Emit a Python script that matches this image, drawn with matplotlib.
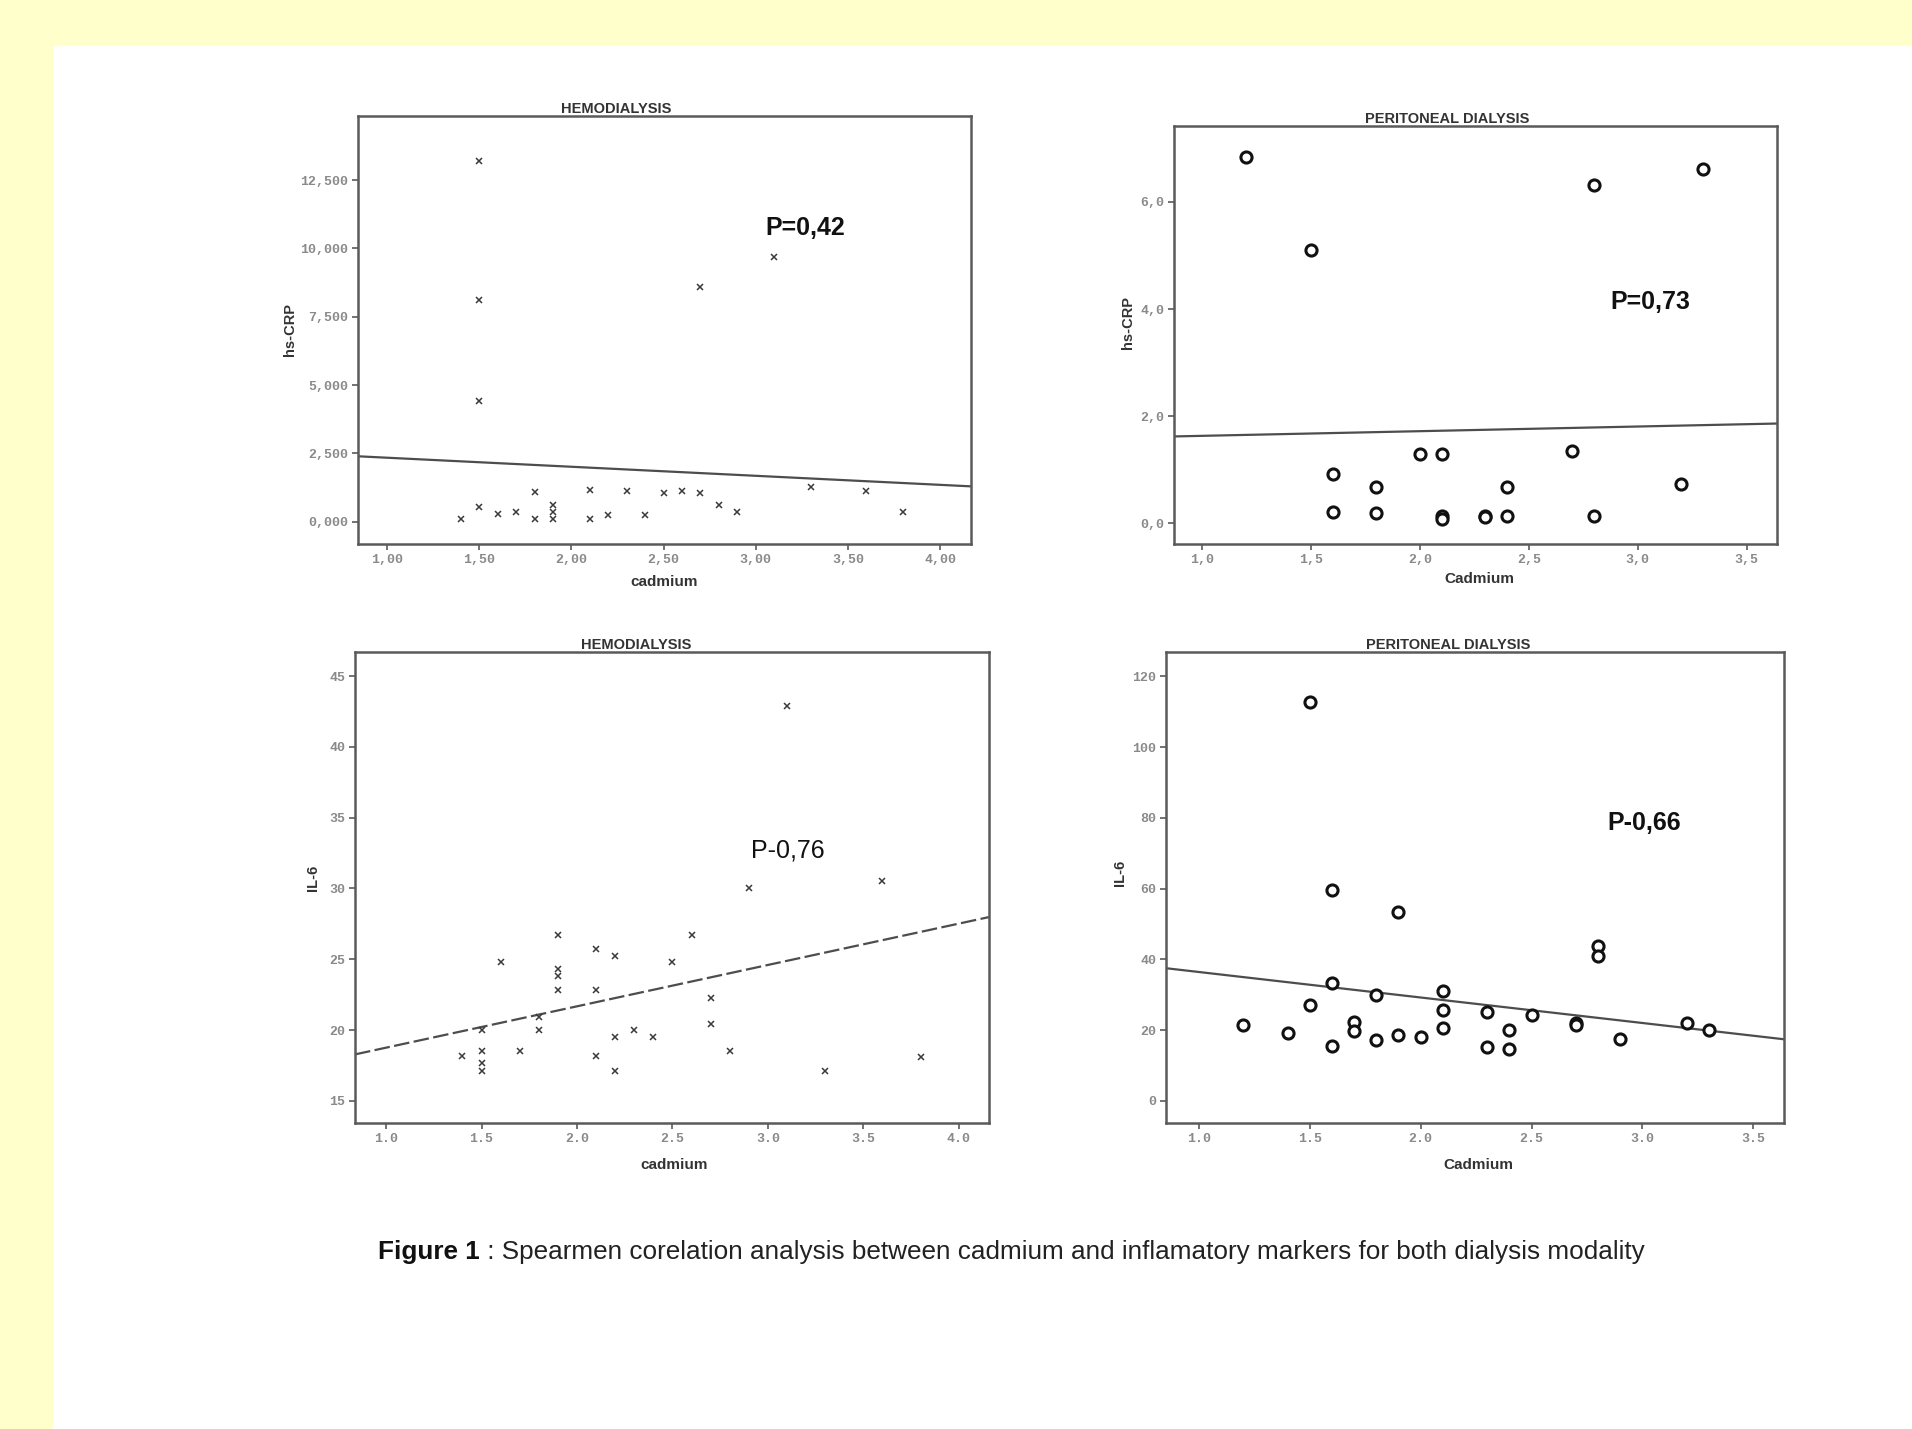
import numpy as np
import matplotlib
matplotlib.use("Agg")
import matplotlib.pyplot as plt
from matplotlib.patches import Rectangle

# ---------------- data ----------------
# Hemodialysis : cadmium vs hs-CRP
hd_crp_cd = [1.50, 1.50, 1.50, 2.70, 3.10, 1.80, 2.10, 2.30, 2.50, 2.60, 2.70, 3.30, 3.60,
             1.50, 1.40, 1.60, 1.70, 1.80, 1.90, 1.90, 1.90, 2.10, 2.20, 2.40, 2.80, 2.90, 3.80]
hd_crp_val = [13.2, 8.1, 4.4, 8.6, 9.7, 1.07, 1.17, 1.13, 1.05, 1.13, 1.05, 1.26, 1.11,
              0.55, 0.10, 0.28, 0.34, 0.10, 0.10, 0.35, 0.62, 0.10, 0.26, 0.26, 0.59, 0.34, 0.34]
hd_crp_fit = (2.67, -0.331)   # intercept, slope

# Peritoneal dialysis : cadmium vs hs-CRP
pd_crp_cd = [1.20, 1.50, 2.80, 3.30, 2.00, 2.10, 2.70, 1.60, 1.80, 2.40, 3.20,
             1.60, 1.80, 2.10, 2.10, 2.30, 2.30, 2.40, 2.80]
pd_crp_val = [6.85, 5.10, 6.31, 6.62, 1.29, 1.29, 1.34, 0.91, 0.68, 0.68, 0.73,
              0.21, 0.19, 0.14, 0.08, 0.14, 0.12, 0.14, 0.13]
pd_crp_fit = (1.544, 0.087)

# Hemodialysis : cadmium vs IL-6
hd_il6_cd = [3.10, 2.90, 3.60, 1.90, 2.60, 2.10, 2.20, 1.60, 2.50, 1.90, 1.90, 1.90, 2.10,
             2.70, 1.80, 2.70, 1.50, 1.80, 2.30, 2.20, 2.40, 1.40, 1.50, 1.70, 2.80, 1.50,
             1.50, 2.10, 3.80, 2.20, 3.30]
hd_il6_val = [42.9, 30.0, 30.5, 26.7, 26.7, 25.7, 25.2, 24.8, 24.8, 24.3, 23.8, 22.8, 22.8,
              22.3, 20.9, 20.4, 20.0, 20.0, 20.0, 19.5, 19.5, 18.2, 18.5, 18.5, 18.5, 17.7,
              17.1, 18.2, 18.1, 17.1, 17.1]
hd_il6_fit = (15.84, 2.92)

# Peritoneal dialysis : cadmium vs IL-6
pd_il6_cd = [1.50, 1.60, 1.90, 2.80, 2.80, 1.60, 1.80, 2.10, 1.50, 2.10, 2.30, 2.50, 1.70,
             1.70, 2.70, 2.70, 3.20, 1.20, 2.10, 1.40, 1.90, 2.00, 2.40, 3.30, 1.80, 2.90,
             1.60, 2.30, 2.40]
pd_il6_val = [112.9, 59.5, 53.4, 43.7, 41.1, 33.3, 30.0, 31.0, 27.2, 25.7, 25.2, 24.4, 22.4,
              19.7, 22.0, 21.4, 22.0, 21.4, 20.7, 19.2, 18.7, 18.2, 20.0, 20.0, 17.3, 17.4,
              15.6, 15.1, 14.6]
pd_il6_fit = (43.65, -7.21)

# tick values / labels
hd_crp_xticks = [1.0, 1.5, 2.0, 2.5, 3.0, 3.5, 4.0]
hd_crp_xlabels = ["1,00", "1,50", "2,00", "2,50", "3,00", "3,50", "4,00"]
hd_crp_yticks = [0, 2.5, 5, 7.5, 10, 12.5]
hd_crp_ylabels = ["0,000", "2,500", "5,000", "7,500", "10,000", "12,500"]

pd_crp_xticks = [1.0, 1.5, 2.0, 2.5, 3.0, 3.5]
pd_crp_xlabels = ["1,0", "1,5", "2,0", "2,5", "3,0", "3,5"]
pd_crp_yticks = [0, 2, 4, 6]
pd_crp_ylabels = ["0,0", "2,0", "4,0", "6,0"]

hd_il6_xticks = [1.0, 1.5, 2.0, 2.5, 3.0, 3.5, 4.0]
hd_il6_xlabels = ["1.0", "1.5", "2.0", "2.5", "3.0", "3.5", "4.0"]
hd_il6_yticks = [15, 20, 25, 30, 35, 40, 45]
hd_il6_ylabels = ["15", "20", "25", "30", "35", "40", "45"]

pd_il6_xticks = [1.0, 1.5, 2.0, 2.5, 3.0, 3.5]
pd_il6_xlabels = ["1.0", "1.5", "2.0", "2.5", "3.0", "3.5"]
pd_il6_yticks = [0, 20, 40, 60, 80, 100, 120]
pd_il6_ylabels = ["0", "20", "40", "60", "80", "100", "120"]

titles = ["HEMODIALYSIS", "PERITONEAL DIALYSIS", "HEMODIALYSIS", "PERITONEAL DIALYSIS"]
ylabels = ["hs-CRP", "hs-CRP", "IL-6", "IL-6"]
xlabels = ["cadmium", "Cadmium", "cadmium", "Cadmium"]
rho_texts = ["P=0,42", "P=0,73", "P-0,76", "P-0,66"]
caption_bold = "Figure 1"
caption_rest = " : Spearmen corelation analysis between cadmium and inflamatory markers for both dialysis modality"

# ---------------- figure ----------------
W, H = 1912, 1429
fig = plt.figure(figsize=(W / 100, H / 100), dpi=100)
fig.patch.set_facecolor("white")

yellow = "#FFFFCC"
fig.add_artist(Rectangle((0, 0), 52 / W, 1, transform=fig.transFigure, color=yellow, zorder=0))
fig.add_artist(Rectangle((0, 1 - 45 / H), 1, 45 / H, transform=fig.transFigure, color=yellow, zorder=0))


def px_axes(l, t, r, b):
    return fig.add_axes([l / W, 1 - b / H, (r - l) / W, (b - t) / H])


panels = [
    dict(box=(358, 116, 971, 544), x=hd_crp_cd, y=hd_crp_val, fit=hd_crp_fit,
         xlim=(0.842, 4.168), ylim=(-0.82, 14.85),
         xt=hd_crp_xticks, xl=hd_crp_xlabels, yt=hd_crp_yticks, yl=hd_crp_ylabels,
         kind="x", ls="-", ylc=(-0.111, 0.50), xlc=(0.50, -0.089), tx=0.422,
         txt=(3.05, 10.75), tw="bold"),
    dict(box=(1174, 126, 1777, 544), x=pd_crp_cd, y=pd_crp_val, fit=pd_crp_fit,
         xlim=(0.87, 3.64), ylim=(-0.39, 7.42),
         xt=pd_crp_xticks, xl=pd_crp_xlabels, yt=pd_crp_yticks, yl=pd_crp_ylabels,
         kind="o", ls="-", ylc=(-0.076, 0.53), xlc=(0.506, -0.084), tx=0.453,
         txt=(2.876, 4.13), tw="bold"),
    dict(box=(355, 652, 989, 1123), x=hd_il6_cd, y=hd_il6_val, fit=hd_il6_fit,
         xlim=(0.837, 4.158), ylim=(13.44, 46.7),
         xt=hd_il6_xticks, xl=hd_il6_xlabels, yt=hd_il6_yticks, yl=hd_il6_ylabels,
         kind="x", ls=(0, (7, 2)), ylc=(-0.066, 0.52), xlc=(0.503, -0.089), tx=0.444,
         txt=(2.91, 32.65), tw="normal"),
    dict(box=(1166, 652, 1784, 1123), x=pd_il6_cd, y=pd_il6_val, fit=pd_il6_fit,
         xlim=(0.852, 3.638), ylim=(-6.25, 126.9),
         xt=pd_il6_xticks, xl=pd_il6_xlabels, yt=pd_il6_yticks, yl=pd_il6_ylabels,
         kind="o", ls="-", ylc=(-0.075, 0.53), xlc=(0.506, -0.089), tx=0.456,
         txt=(2.844, 78.65), tw="bold"),
]

spine_col = "#5a5a5a"
for i, p in enumerate(panels):
    ax = px_axes(*p["box"])
    ax.set_facecolor("white")
    ax.set_xlim(*p["xlim"])
    ax.set_ylim(*p["ylim"])
    if p["kind"] == "x":
        ax.plot(p["x"], p["y"], linestyle="none", marker="x", ms=4.5, mew=1.1,
                color="#3a3a3a", zorder=3)
    else:
        ax.plot(p["x"], p["y"], linestyle="none", marker="o", ms=8.0, mew=2.2,
                mfc="white", mec="#111111", zorder=3)
    b0, b1 = p["fit"]
    xl = np.array(ax.get_xlim())
    ax.plot(xl, b0 + b1 * xl, color="#4d4d4d", lw=1.6, linestyle=p["ls"], zorder=2)

    for s in ax.spines.values():
        s.set_color(spine_col)
        s.set_linewidth(1.8)
    ax.set_xticks(p["xt"])
    ax.set_xticklabels(p["xl"])
    ax.set_yticks(p["yt"])
    ax.set_yticklabels(p["yl"])
    ax.tick_params(direction="out", length=4, width=1.2, color=spine_col,
                   labelsize=9.5, labelcolor="#8a8a8a", pad=3)
    for lab in ax.get_xticklabels() + ax.get_yticklabels():
        lab.set_family(["Liberation Mono", "DejaVu Sans Mono"])
        lab.set_fontweight("bold")

    ax.set_title(titles[i], fontsize=10.5, fontweight="bold", color="#333333", pad=2,
                 x=p["tx"], family=["Liberation Sans", "DejaVu Sans"])
    ax.set_ylabel(ylabels[i], fontsize=10.5, fontweight="bold", color="#333333",
                  family=["Liberation Sans", "DejaVu Sans"])
    ax.set_xlabel(xlabels[i], fontsize=11, fontweight="bold", color="#333333",
                  family=["Liberation Sans", "DejaVu Sans"])
    ax.yaxis.set_label_coords(*p["ylc"])
    ax.yaxis.label.set_va("center")
    ax.xaxis.set_label_coords(*p["xlc"])
    ax.xaxis.label.set_va("center")

    ax.text(p["txt"][0], p["txt"][1], rho_texts[i], fontsize=18, fontweight=p["tw"],
            ha="left", va="center", color="#111111",
            family=["Liberation Sans Narrow", "Liberation Sans", "DejaVu Sans"])

# ---------------- caption ----------------
cap_left, cap_right, cap_y = 378, 1646, 1252
fs = 17
t1 = fig.text(cap_left / W, 1 - cap_y / H, caption_bold, fontsize=fs, fontweight="bold",
              ha="left", va="center", color="#111111",
              family=["Liberation Sans", "DejaVu Sans"])
fig.canvas.draw()
r = fig.canvas.get_renderer()
bb1 = t1.get_window_extent(r)
t2 = fig.text(bb1.x1 / W, 1 - cap_y / H, caption_rest, fontsize=fs,
              ha="left", va="center", color="#222222",
              family=["Liberation Sans", "DejaVu Sans"])
fig.canvas.draw()
bb2 = t2.get_window_extent(r)
total = bb2.x1 - bb1.x0
scale = (cap_right - cap_left) / total
fs2 = fs * scale
t1.set_fontsize(fs2)
fig.canvas.draw()
bb1 = t1.get_window_extent(r)
t2.set_fontsize(fs2)
t2.set_position((bb1.x1 / W, 1 - cap_y / H))

fig.savefig("out.png", dpi=100, facecolor=fig.get_facecolor())
